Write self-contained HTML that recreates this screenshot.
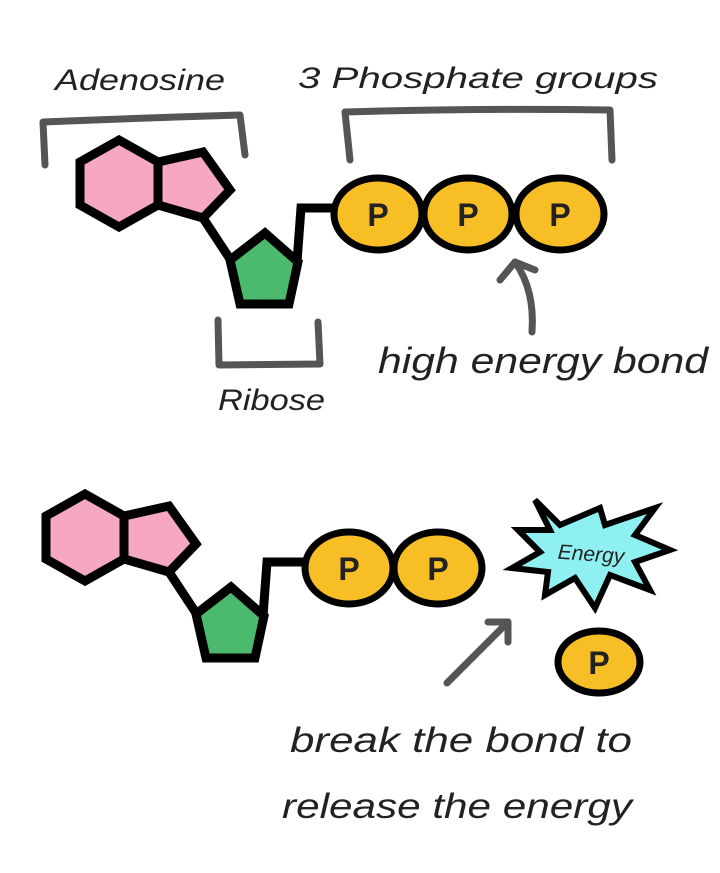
<!DOCTYPE html>
<html><head><meta charset="utf-8"><style>
html,body{margin:0;padding:0;background:#fff;}
svg{display:block;}
text{font-family:"Liberation Sans",sans-serif;font-style:italic;fill:#222;}
</style></head><body>
<svg width="720" height="873" viewBox="0 0 720 873" xmlns="http://www.w3.org/2000/svg">
<g fill="none" stroke="#555" stroke-width="7" stroke-linecap="round" stroke-linejoin="round">
<path d="M45 165 L43 122 Q140 118 240 115 L245 155"/>
<path d="M350 160 L345 112 Q480 108 610 110 L612 160"/>
<path d="M218 320 L219 365 L320 364 L318 322"/>
<path d="M532 332 Q535 290 515 262"/>
<path d="M500 280 L515 262 L535 270"/>
<path d="M447 683 L508 622"/>
<path d="M488 622 L508 622 L508 642"/>
</g>
<g stroke="#000" stroke-width="9" stroke-linejoin="miter">
<path d="M203 218 L232 262" fill="none"/>
<path d="M297 262 L301 208 L340 208" fill="none"/>
<polygon points="119,140 158,162 158,205 119,227 80,205 80,162" fill="#f6a7c3"/>
<polygon points="158,162 203,152 230,190 203,218 158,205" fill="#f6a7c3"/>
<polygon points="265,233 298,262 289,304 240,304 230,260" fill="#4cba6e"/>
</g>
<g stroke="#000" stroke-width="7" fill="#f7be25">
<ellipse cx="378" cy="214" rx="44" ry="36"/>
<ellipse cx="468" cy="214" rx="44" ry="36"/>
<ellipse cx="560" cy="214" rx="44" ry="36"/>
</g>
<g font-weight="bold" font-size="32" fill="#111" text-anchor="middle">
<text x="378" y="226" style="font-style:normal">P</text>
<text x="468" y="226" style="font-style:normal">P</text>
<text x="560" y="226" style="font-style:normal">P</text>
</g>
<g transform="translate(-34,354)">
<g stroke="#000" stroke-width="9" stroke-linejoin="miter">
<path d="M203 218 L232 262" fill="none"/>
<path d="M297 262 L301 208 L340 208" fill="none"/>
<polygon points="119,140 158,162 158,205 119,227 80,205 80,162" fill="#f6a7c3"/>
<polygon points="158,162 203,152 230,190 203,218 158,205" fill="#f6a7c3"/>
<polygon points="265,233 298,262 289,304 240,304 230,260" fill="#4cba6e"/>
</g>
<g stroke="#000" stroke-width="7" fill="#f7be25">
<ellipse cx="383" cy="214" rx="44" ry="36"/>
<ellipse cx="472" cy="214" rx="44" ry="36"/>
</g>
<text x="383" y="226" font-weight="bold" font-size="32" text-anchor="middle" style="font-style:normal" fill="#111">P</text>
<text x="472" y="226" font-weight="bold" font-size="32" text-anchor="middle" style="font-style:normal" fill="#111">P</text>
</g>
<polygon points="535,500 560,525 600,508 605,525 655,508 635,535 670,550 635,562 650,590 610,575 595,608 575,578 545,595 548,572 512,568 540,552 518,530 550,530" fill="#8ff0f2" stroke="#000" stroke-width="6" stroke-linejoin="miter"/>
<text x="591" y="561" font-size="21" text-anchor="middle" fill="#124" transform="rotate(4 591 555)">Energy</text>
<ellipse cx="599" cy="662" rx="41" ry="31" fill="#f7be25" stroke="#000" stroke-width="7"/>
<text x="599" y="674" font-weight="bold" font-size="32" text-anchor="middle" style="font-style:normal" fill="#111">P</text>
<text x="55" y="90" font-size="30" textLength="170" lengthAdjust="spacingAndGlyphs">Adenosine</text>
<text x="298" y="88" font-size="30" textLength="360" lengthAdjust="spacingAndGlyphs">3 Phosphate groups</text>
<text x="218" y="410" font-size="30" textLength="107" lengthAdjust="spacingAndGlyphs">Ribose</text>
<text x="378" y="373" font-size="36" textLength="330" lengthAdjust="spacingAndGlyphs">high energy bond</text>
<text x="290" y="752" font-size="35" textLength="342" lengthAdjust="spacingAndGlyphs">break the bond to</text>
<text x="282" y="818" font-size="35" textLength="350" lengthAdjust="spacingAndGlyphs">release the energy</text>
</svg>
</body></html>
